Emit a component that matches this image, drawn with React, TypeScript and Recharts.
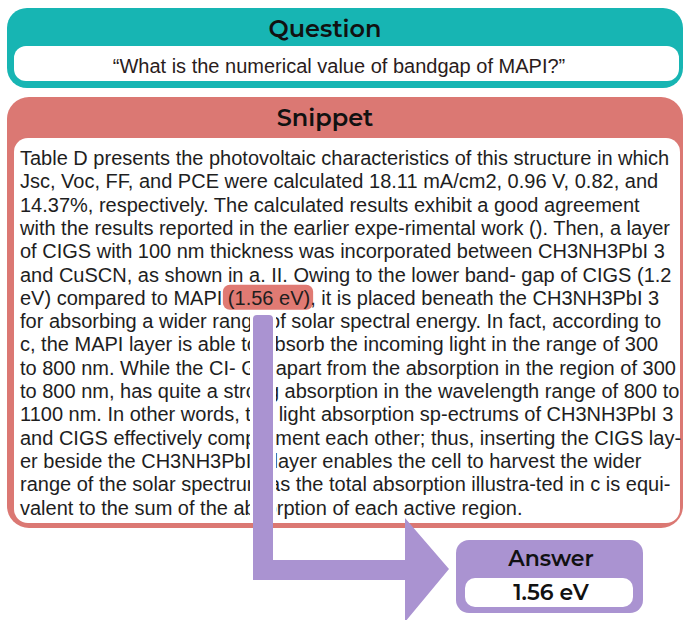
import React from 'react';
import { ComposedChart, XAxis, YAxis, Customized } from 'recharts';

const questionTitle = 'Question';
const questionText = '\u201CWhat is the numerical value of bandgap of MAPI?\u201D';
const snippetTitle = 'Snippet';
const snippetLines = [
  'Table D presents the photovoltaic characteristics of this structure in which',
  'Jsc, Voc, FF, and PCE were calculated 18.11 mA/cm2, 0.96 V, 0.82, and',
  '14.37%, respectively. The calculated results exhibit a good agreement',
  'with the results reported in the earlier expe-rimental work (). Then, a layer',
  'of CIGS with 100 nm thickness was incorporated between CH3NH3PbI 3',
  'and CuSCN, as shown in a. II. Owing to the lower band- gap of CIGS (1.2',
  'eV) compared to MAPI (1.56 eV), it is placed beneath the CH3NH3PbI 3',
  'for absorbing a wider range of solar spectral energy. In fact, according to',
  'c, the MAPI layer is able to absorb the incoming light in the range of 300',
  'to 800 nm. While the CI- GS apart from the absorption in the region of 300',
  'to 800 nm, has quite a strong absorption in the wavelength range of 800 to',
  '1100 nm. In other words, the light absorption sp-ectrums of CH3NH3PbI 3',
  'and CIGS effectively comp- -ment each other; thus, inserting the CIGS lay-',
  'er beside the CH3NH3PbI 3 layer enables the cell to harvest the wider',
  'range of the solar spectrum as the total absorption illustra-ted in c is equi-',
  'valent to the sum of the absorption of each active region.',
];
const highlightText = '(1.56 eV)';
const answerTitle = 'Answer';
const answerText = '1.56 eV';

const TEAL = '#17b5b3';
const RED = '#db7873';
const PURPLE = '#aa93d1';
const BODY_FONT = '"Liberation Sans", Arial, sans-serif';
const TITLE_FONT = 'Montserrat, "Open Sans", "Noto Sans", sans-serif';
const BODY_SIZE = 20;
const LINE_H = 23.3;

function measure(s: string, font: string) {
  const ctx = document.createElement('canvas').getContext('2d');
  if (!ctx) return s.length * 9;
  ctx.font = font;
  return ctx.measureText(s).width;
}

function Diagram() {
  const textX = 20;
  const firstBase = 165;
  const hlRow = snippetLines.findIndex((l) => l.includes(highlightText));
  const hlLine = snippetLines[hlRow];
  const font = `${BODY_SIZE}px "Liberation Sans"`;
  const hlStart = textX + measure(hlLine.slice(0, hlLine.indexOf(highlightText)), font);
  const hlWidth = measure(highlightText, font);
  const hlBase = firstBase + hlRow * LINE_H;

  return (
    <g>
      {/* question panel */}
      <rect x={7} y={8} width={676} height={80} rx={20} fill={TEAL} />
      <rect x={14} y={46} width={665} height={35} rx={12} fill="#fff" />
      <text x={325} y={37} textAnchor="middle" fontFamily={TITLE_FONT} fontWeight={600} fontSize={24} fill="#111">
        {questionTitle}
      </text>
      <text x={339} y={73} textAnchor="middle" fontFamily={BODY_FONT} fontSize={BODY_SIZE} fill="#2a1c1c">
        {questionText}
      </text>

      {/* snippet panel */}
      <rect x={7} y={97} width={676} height={431} rx={22} fill={RED} />
      <rect x={14} y={138} width={666} height={385} rx={14} fill="#fff" />
      <text x={325} y={126} textAnchor="middle" fontFamily={TITLE_FONT} fontWeight={600} fontSize={24} fill="#111">
        {snippetTitle}
      </text>
      <rect x={hlStart - 5} y={hlBase - 20} width={hlWidth + 8} height={25} rx={7} fill="#e07a73" />
      {snippetLines.map((line, i) => (
        <text key={i} x={textX} y={firstBase + i * LINE_H} fontFamily={BODY_FONT} fontSize={BODY_SIZE} fill="#1e1e1e">
          {line}
        </text>
      ))}

      {/* arrow */}
      <rect x={250} y={316} width={26} height={206} fill="#fff" />
      <path
        d="M253,319 Q253,315 257,315 L269,315 Q273,315 273,319 L273,560 L405,560 L405,518 L449,569 L405,622 L405,580 L253,580 Z"
        fill={PURPLE}
      />

      {/* answer panel */}
      <rect x={456} y={540} width={187} height={73} rx={13} fill={PURPLE} />
      <rect x={465} y={578} width={168} height={29} rx={10} fill="#fff" />
      <text x={551} y={566} textAnchor="middle" fontFamily={TITLE_FONT} fontWeight={600} fontSize={22} fill="#111">
        {answerTitle}
      </text>
      <text x={551} y={600} textAnchor="middle" fontFamily={TITLE_FONT} fontWeight={600} fontSize={22} fill="#111">
        {answerText}
      </text>
    </g>
  );
}

export default function App() {
  return (
    <div style={{ position: 'absolute', left: 0, top: 0, background: '#fff' }}>
      <ComposedChart width={684} height={620} data={[]} margin={{ top: 0, right: 0, bottom: 0, left: 0 }}>
        <XAxis type="number" domain={[0, 684]} hide />
        <YAxis type="number" domain={[0, 620]} reversed hide />
        <Customized component={<Diagram />} />
      </ComposedChart>
    </div>
  );
}
